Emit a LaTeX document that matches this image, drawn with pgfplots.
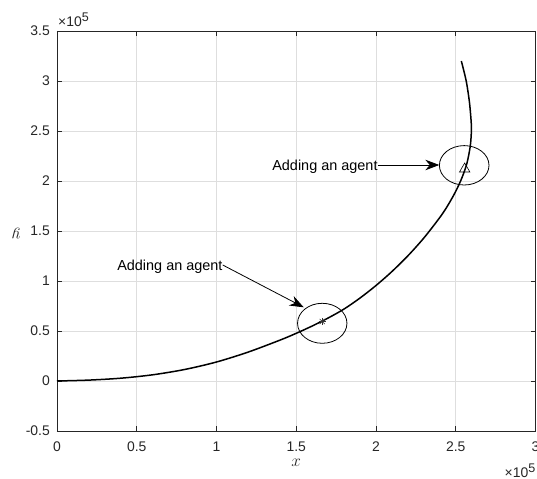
\documentclass[border=0pt]{standalone}
\usepackage{fontspec}
\setmainfont{Liberation Sans}
\usepackage{pgfplots}
\usepackage{pgfplotstable}
\pgfplotsset{compat=1.18}
\usetikzlibrary{arrows.meta}

\definecolor{axcol}{rgb}{0.15,0.15,0.15}
\definecolor{gridcol}{rgb}{0.87,0.87,0.87}

% trajectory of the formation
\pgfplotstableread{
x y
0 0
20000 900
40000 2800
60000 6200
80000 11500
100000 19000
120000 29000
140000 41000
150000 47700
160000 55000
170000 63000
180000 72000
190000 83000
200000 95500
210000 109500
220000 125200
230000 143000
240000 163500
245000 175500
250000 189700
254000 203700
257000 217700
259000 233700
259700 246000
259800 255000
259400 265000
258500 280000
256800 298000
255100 310000
253500 320000
}\pathdata

\newcommand{\sci}{×10\raisebox{5bp}{\fontsize{12.6}{14}\selectfont 5}}

\begin{document}
\begin{tikzpicture}
\begin{axis}[
  scale only axis, width=478.5bp, height=400bp,
  xmin=0, xmax=300000, ymin=-50000, ymax=350000,
  xtick={0,50000,...,300000},
  ytick={-50000,0,...,350000},
  scaled x ticks=base 10:-5, scaled y ticks=base 10:-5,
  xtick scale label code/.code={},
  ytick scale label code/.code={},
  /pgf/number format/assume math mode=true,
  tick label style={font=\fontsize{14}{16}\selectfont, text=axcol},
  xticklabel style={inner sep=0pt, yshift=-11bp},
  yticklabel style={inner sep=0pt, xshift=-7bp},
  tick align=inside, major tick length=5bp,
  every tick/.style={axcol, line width=0.7bp},
  axis line style={axcol, line width=0.8bp},
  grid=major,
  major grid style={gridcol, line width=0.7bp},
  xlabel={\fontsize{17}{19}\selectfont$x$},
  ylabel={\fontsize{17}{19}\selectfont$y$},
  xlabel style={at={(axis description cs:0.5,-0.09)}, anchor=base, text=axcol},
  ylabel style={at={(axis description cs:-0.085,0.5)}, anchor=base, rotate=90, text=axcol},
]
\addplot[black, line width=1.5bp, smooth, no markers] table[x=x, y=y] {\pathdata};

% agent joining points
\addplot[black!80, line width=0.6bp, only marks, mark=+, mark size=3.6bp] coordinates {(166300,59500)};
\addplot[black!80, line width=0.6bp, only marks, mark=x, mark size=3.6bp] coordinates {(166300,59500)};
\addplot[black, line width=0.6bp, only marks, mark=triangle, mark size=6bp] coordinates {(255600,212000)};

\draw[black, line width=0.8bp] (axis cs:166300,57700) ellipse [x radius=24.7bp, y radius=20bp];
\draw[black, line width=0.8bp] (axis cs:255300,215700) ellipse [x radius=24.8bp, y radius=19.7bp];

\draw[-{Stealth[length=14bp,width=10.5bp,inset=4.5bp]}, line width=0.8bp]
  (axis cs:201100,216000) -- (axis cs:239700,216000);
\node[anchor=base east, inner sep=0pt, yshift=-5.7bp, font=\fontsize{14.5}{16}\selectfont]
  at (axis cs:201100,216000) {Adding an agent};

\draw[-{Stealth[length=14bp,width=10.5bp,inset=4.5bp]}, line width=0.8bp]
  (axis cs:103900,116000) -- (axis cs:154700,73700);
\node[anchor=base east, inner sep=0pt, yshift=-5bp, font=\fontsize{14.5}{16}\selectfont]
  at (axis cs:103900,116000) {Adding an agent};

\coordinate (sw) at (rel axis cs:0,0);
\coordinate (se) at (rel axis cs:1,0);
\coordinate (nw) at (rel axis cs:0,1);
\end{axis}
% scale factors of the two axes
\node[anchor=base east, inner sep=0pt, yshift=-46bp, font=\fontsize{14}{16}\selectfont, text=axcol]
  at (se) {\sci};
\node[anchor=base west, inner sep=0pt, xshift=1bp, yshift=4bp, font=\fontsize{14}{16}\selectfont, text=axcol]
  at (nw) {\sci};
\pgfresetboundingbox
\path[use as bounding box] (sw) ++(-57bp,-48bp) rectangle ++(537bp,479bp);
\end{tikzpicture}
\end{document}
